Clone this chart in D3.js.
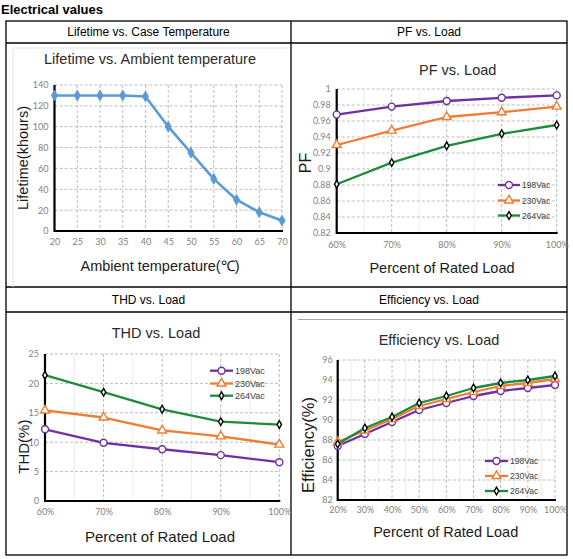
<!DOCTYPE html>
<html><head><meta charset="utf-8">
<script src="https://cdn.jsdelivr.net/npm/d3@7"></script>
<style>
html,body{margin:0;padding:0;background:#fff;}
svg{display:block;}
text{font-family:"Liberation Sans",Arial,sans-serif;}
.tick text{font-family:Lato,"Open Sans",sans-serif;fill:#7f7f7f;}
</style></head>
<body><svg id="c" width="573" height="559"></svg>
<script>
// ---- data ----
const lifeTemps = [20,25,30,35,40,45,50,55,60,65,70];
const lifeHours = [130,130,130,130,129,100,75,50,30,18,10];
const lifeYTicks = [0,20,40,60,80,100,120,140];

const pfLoads = [60,70,80,90,100];
const pf198 = [0.968,0.978,0.985,0.989,0.992];
const pf230 = [0.930,0.948,0.965,0.971,0.978];
const pf264 = [0.881,0.908,0.929,0.944,0.955];
const pfYTicks = [0.82,0.84,0.86,0.88,0.9,0.92,0.94,0.96,0.98,1];

const thdLoads = [60,70,80,90,100];
const thd198 = [12.2,9.9,8.8,7.8,6.6];
const thd230 = [15.4,14.2,12.0,11.0,9.6];
const thd264 = [21.4,18.5,15.6,13.5,13.0];
const thdYTicks = [0,5,10,15,20,25];

const effLoads = [20,30,40,50,60,70,80,90,100];
const eff198 = [87.4,88.6,89.8,91.0,91.7,92.4,92.9,93.2,93.5];
const eff230 = [87.8,88.95,90.1,91.4,92.1,92.8,93.4,93.7,94.1];
const eff264 = [87.6,89.2,90.3,91.7,92.4,93.2,93.7,94.0,94.4];
const effYTicks = [82,84,86,88,90,92,94,96];

const seriesNames = ["198Vac","230Vac","264Vac"];
const seriesColors = ["#7030A0","#ED7D31","#1E8B3A"];

const svg = d3.select("#c");
svg.append("rect").attr("width",573).attr("height",559).attr("fill","#fff");

// ---- page title & table ----
svg.append("text").attr("x",1).attr("y",13.5).attr("font-size",13).attr("font-weight","bold")
  .attr("fill","#000").text("Electrical values");
const tbl = svg.append("g").attr("stroke","#000").attr("stroke-width",1.3).attr("fill","none");
tbl.append("rect").attr("x",6).attr("y",21).attr("width",561).attr("height",534);
[43,287,312].forEach(yy=>tbl.append("line").attr("x1",6).attr("x2",567).attr("y1",yy).attr("y2",yy));
tbl.append("line").attr("x1",291).attr("x2",291).attr("y1",21).attr("y2",555);
const headers = [
  {t:"Lifetime vs. Case Temperature",x:148.5,y:32},
  {t:"PF vs. Load",x:429,y:32},
  {t:"THD vs. Load",x:148.5,y:300},
  {t:"Efficiency vs. Load",x:429,y:300}];
headers.forEach(h=>svg.append("text").attr("x",h.x).attr("y",h.y).attr("text-anchor","middle")
  .attr("dominant-baseline","central").attr("font-size",12).attr("fill","#000").text(h.t));

// faint chart frames
svg.append("path").attr("d","M13,287 V48 H287").attr("fill","none").attr("stroke","#e3e3e3").attr("stroke-width",1);
svg.append("line").attr("x1",298).attr("x2",564).attr("y1",319.5).attr("y2",319.5).attr("stroke","#a6a6a6").attr("stroke-width",1);

function symbolFor(i){
  return [d3.symbolCircle,d3.symbolTriangle,d3.symbolDiamond][i];
}
function symbolSize(i){ return [38,34,17][i]; }
function symbolStroke(i){ return i===2 ? "#000" : seriesColors[i]; }

function drawChart(cfg){
  const g = svg.append("g");
  const x = d3.scaleLinear().domain(cfg.xDomain).range([cfg.l,cfg.r]);
  const y = d3.scaleLinear().domain(cfg.yDomain).range([cfg.b,cfg.t]);
  // minor vertical grid
  (cfg.xMinor||[]).forEach(v=>g.append("line").attr("x1",x(v)).attr("x2",x(v)).attr("y1",cfg.t).attr("y2",cfg.b)
    .attr("stroke","#ececec").attr("stroke-width",1));
  // major dashed grid
  cfg.xTicks.forEach(v=>g.append("line").attr("x1",x(v)).attr("x2",x(v)).attr("y1",cfg.t).attr("y2",cfg.b)
    .attr("stroke","#bcbcbc").attr("stroke-width",1).attr("stroke-dasharray","3,2"));
  cfg.yTicks.forEach(v=>g.append("line").attr("x1",cfg.l).attr("x2",cfg.r).attr("y1",y(v)).attr("y2",y(v))
    .attr("stroke","#bcbcbc").attr("stroke-width",1).attr("stroke-dasharray","3,2"));
  // axes
  const ax = g.append("g").attr("transform",`translate(0,${cfg.b})`)
    .call(d3.axisBottom(x).tickValues(cfg.xTicks).tickSize(0).tickPadding(cfg.xPad).tickFormat(cfg.xFmt));
  const ay = g.append("g").attr("transform",`translate(${cfg.l},0)`)
    .call(d3.axisLeft(y).tickValues(cfg.yTicks).tickSize(0).tickPadding(cfg.yPad).tickFormat(cfg.yFmt));
  [ax,ay].forEach(a=>{a.select(".domain").remove(); a.selectAll("text").attr("font-size",9).attr("fill","#7f7f7f");});
  g.append("path").attr("d",`M${cfg.l},${cfg.t} V${cfg.b} H${cfg.r+1}`).attr("fill","none")
    .attr("stroke","#000").attr("stroke-width",2.2);
  // titles
  g.append("text").attr("x",cfg.title[1]).attr("y",cfg.title[2]).attr("text-anchor","middle")
    .attr("dominant-baseline","central").attr("font-size",14.5).attr("fill","#2b2b2b").text(cfg.title[0]);
  g.append("text").attr("x",cfg.xLabel[1]).attr("y",cfg.xLabel[2]).attr("text-anchor","middle")
    .attr("dominant-baseline","central").attr("font-size",cfg.xLabel[3]).attr("fill","#1a1a1a").text(cfg.xLabel[0]);
  g.append("text").attr("transform",`translate(${cfg.yLabel[1]},${cfg.yLabel[2]}) rotate(-90)`).attr("text-anchor","middle")
    .attr("dominant-baseline","central").attr("font-size",cfg.yLabel[3]).attr("fill","#1a1a1a").text(cfg.yLabel[0]);
  // series
  const line = d3.line().x(d=>x(d[0])).y(d=>y(d[1]));
  cfg.series.forEach((s,i)=>{
    const pts = cfg.xs.map((v,k)=>[v,s.values[k]]);
    g.append("path").attr("d",line(pts)).attr("fill","none").attr("stroke",s.color).attr("stroke-width",s.width||2.3)
      .attr("stroke-linejoin","round");
    pts.forEach(p=>g.append("path").attr("d",d3.symbol().type(s.symbol).size(s.size)())
      .attr("transform",`translate(${x(p[0])},${y(p[1])})`)
      .attr("fill",s.fill).attr("stroke",s.stroke).attr("stroke-width",s.sw||1.3));
  });
  // legend
  if(cfg.legend){
    const L = cfg.legend;
    cfg.series.forEach((s,i)=>{
      const yy = L.ys[i];
      g.append("line").attr("x1",L.x1).attr("x2",L.x2).attr("y1",yy).attr("y2",yy).attr("stroke",s.color).attr("stroke-width",2.3);
      g.append("path").attr("d",d3.symbol().type(s.symbol).size(s.size)())
        .attr("transform",`translate(${(L.x1+L.x2)/2},${yy})`).attr("fill",s.fill).attr("stroke",s.stroke).attr("stroke-width",s.sw||1.3);
      g.append("text").attr("x",L.x2+2).attr("y",yy).attr("dominant-baseline","central")
        .attr("font-family","Lato, 'Open Sans', sans-serif").attr("font-size",L.fs).attr("fill","#404040").text(seriesNames[i]);
    });
  }
}

function threeSeries(a,b,c){
  return [a,b,c].map((v,i)=>({values:v,color:seriesColors[i],symbol:symbolFor(i),size:symbolSize(i),
    fill:"#fff",stroke:symbolStroke(i),sw:i===2?1.4:1.4}));
}
const pct = d=>d+"%";

// Lifetime
drawChart({l:54.5,r:282,t:85,b:231,xDomain:[20,70],yDomain:[0,140],
  xTicks:lifeTemps,yTicks:lifeYTicks,xPad:8,yPad:6,xFmt:d=>d,yFmt:d=>d,
  title:["Lifetime vs. Ambient temperature",150,59],
  xLabel:["Ambient temperature(\u2103)",160,266,14.5],
  yLabel:["Lifetime(khours)",23,158,14.5],
  xs:lifeTemps,
  series:[{values:lifeHours,color:"#5B9BD5",symbol:d3.symbolDiamond,size:32,fill:"#5B9BD5",stroke:"#5B9BD5",sw:1,width:2.6}]});

// PF
drawChart({l:336.7,r:556.7,t:89,b:233,xDomain:[60,100],yDomain:[0.82,1],
  xTicks:pfLoads,yTicks:pfYTicks,xMinor:[65,75,85,95],xPad:9,yPad:6,xFmt:pct,yFmt:d=>d3.format("")(+d.toFixed(2)),
  title:["PF vs. Load",457.7,70],
  xLabel:["Percent of Rated Load",442,268,14.5],
  yLabel:["PF",305.7,163,16],
  xs:pfLoads,series:threeSeries(pf198,pf230,pf264),
  legend:{x1:498,x2:520,ys:[185,200.5,215.5],fs:8.5}});

// THD
drawChart({l:45,r:279.3,t:354,b:501,xDomain:[60,100],yDomain:[0,25],
  xTicks:thdLoads,yTicks:thdYTicks,xMinor:[65,75,85,95],xPad:8,yPad:6,xFmt:pct,yFmt:d=>d,
  title:["THD vs. Load",156,333],
  xLabel:["Percent of Rated Load",160,536,15],
  yLabel:["THD(%)",23,446.7,15],
  xs:thdLoads,series:threeSeries(thd198,thd230,thd264),
  legend:{x1:210,x2:233,ys:[370.7,383.5,395.7],fs:9}});

// Efficiency
drawChart({l:337.7,r:555,t:360,b:500,xDomain:[20,100],yDomain:[82,96],
  xTicks:effLoads,yTicks:effYTicks,xMinor:[25,35,45,55,65,75,85,95],xPad:7,yPad:5,xFmt:pct,yFmt:d=>d,
  title:["Efficiency vs. Load",439,340],
  xLabel:["Percent of Rated Load",445.7,532.3,14.5],
  yLabel:["Efficiency(%)",307.7,445,16.5],
  xs:effLoads,series:threeSeries(eff198,eff230,eff264),
  legend:{x1:485,x2:508,ys:[461,476,491],fs:8.5}});
</script></body></html>
